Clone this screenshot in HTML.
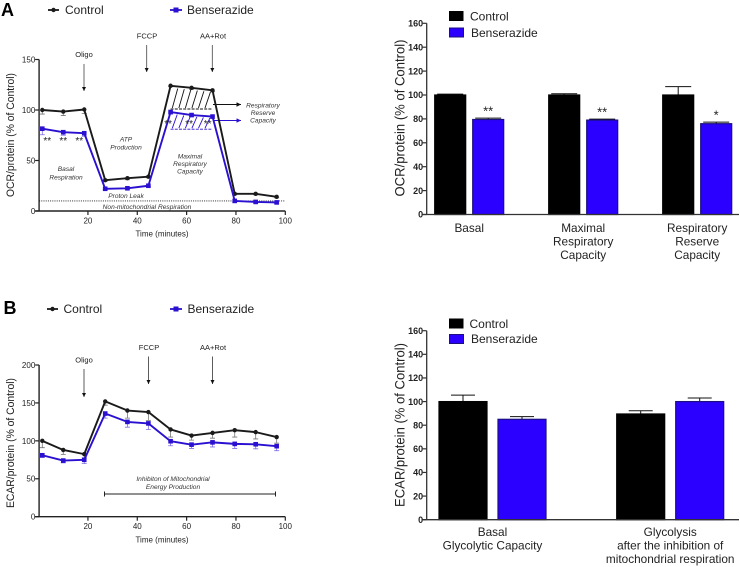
<!DOCTYPE html>
<html>
<head>
<meta charset="utf-8">
<style>
html,body{margin:0;padding:0;background:#fff;width:740px;height:567px;overflow:hidden}
svg{display:block;font-family:"Liberation Sans",Arial,sans-serif;filter:blur(0.3px)}
text{fill:#222}
.ann{font-size:6.6px;font-style:italic;text-anchor:middle;fill:#333}
.drug{font-size:7.5px;text-anchor:middle;fill:#222}
.leg{font-size:12px;fill:#222}
.panel{font-weight:bold;fill:#000}
</style>
</head>
<body>
<svg id="chart" width="740" height="567" viewBox="0 0 740 567" xmlns="http://www.w3.org/2000/svg">
<defs>
<marker id="ah-k" markerWidth="6" markerHeight="6" refX="5" refY="2.5" orient="auto"><path d="M0,0 L5,2.5 L0,5 Z" fill="#111"/></marker>
<marker id="ah-b" markerWidth="6" markerHeight="6" refX="5" refY="2.5" orient="auto"><path d="M0,0 L5,2.5 L0,5 Z" fill="#2a10d0"/></marker>
</defs>

<text class="panel" x="1" y="16" font-size="18">A</text>
<text class="panel" x="3.5" y="314" font-size="18">B</text>

<g>
<line x1="48" y1="10" x2="59" y2="10" stroke="#1a1a1a" stroke-width="1.8"/>
<circle cx="53.5" cy="10" r="2.2" fill="#1a1a1a"/>
<text class="leg" x="65" y="14">Control</text>
<line x1="170" y1="10" x2="182" y2="10" stroke="#2a10d0" stroke-width="1.8"/>
<rect x="173.5" y="7.5" width="5" height="5" fill="#2a10d0"/>
<text class="leg" x="187" y="14">Benserazide</text>
</g>

<g>
<line x1="47" y1="309" x2="58" y2="309" stroke="#1a1a1a" stroke-width="1.8"/>
<circle cx="52.5" cy="309" r="2.2" fill="#1a1a1a"/>
<text class="leg" x="63.5" y="313">Control</text>
<line x1="170" y1="309" x2="182" y2="309" stroke="#2a10d0" stroke-width="1.8"/>
<rect x="173.5" y="306.5" width="5" height="5" fill="#2a10d0"/>
<text class="leg" x="187.5" y="313">Benserazide</text>
</g>

<g>
<rect x="449" y="11" width="14.5" height="10" fill="#000"/>
<text class="leg" x="470" y="20.5">Control</text>
<rect x="449.5" y="28" width="14" height="9" fill="#2c00ff" stroke="#1a1080" stroke-width="1"/>
<text class="leg" x="471" y="37">Benserazide</text>
</g>

<g>
<rect x="449" y="318.5" width="14.5" height="10" fill="#000"/>
<text class="leg" x="469.5" y="328">Control</text>
<rect x="449.5" y="334.5" width="14" height="9" fill="#2c00ff" stroke="#1a1080" stroke-width="1"/>
<text class="leg" x="471" y="343">Benserazide</text>
</g>

<g>
<text class="drug" x="84" y="57">Oligo</text>
<line x1="84" y1="64" x2="84" y2="91" stroke="#444" stroke-width="0.8" marker-end="url(#ah-k)"/>
<text class="drug" x="147" y="38.5">FCCP</text>
<line x1="146.7" y1="45" x2="146.7" y2="72" stroke="#444" stroke-width="0.8" marker-end="url(#ah-k)"/>
<text class="drug" x="213" y="38.5">AA+Rot</text>
<line x1="212.3" y1="45" x2="212.3" y2="72" stroke="#444" stroke-width="0.8" marker-end="url(#ah-k)"/>
<text class="ann"><tspan x="66" y="171">Basal</tspan><tspan x="66" y="179.5">Respiration</tspan></text>
<text class="ann"><tspan x="126" y="141.5">ATP</tspan><tspan x="126" y="149.5">Production</tspan></text>
<text class="ann"><tspan x="190" y="158.5">Maximal</tspan><tspan x="190" y="166">Respiratory</tspan><tspan x="190" y="173.5">Capacity</tspan></text>
<text class="ann" x="126" y="198">Proton Leak</text>
<text class="ann" x="147" y="209">Non-mitochondrial Respiration</text>
<text class="ann"><tspan x="263" y="107.5">Respiratory</tspan><tspan x="263" y="115">Reserve</tspan><tspan x="263" y="122.5">Capacity</tspan></text>
<line x1="213" y1="104.5" x2="241" y2="104.5" stroke="#111" stroke-width="0.9" marker-end="url(#ah-k)"/>
<line x1="213" y1="120.5" x2="241" y2="120.5" stroke="#2a10d0" stroke-width="0.9" marker-end="url(#ah-b)"/>
</g>

<g>
<text class="drug" x="84" y="362.5">Oligo</text>
<line x1="84" y1="369" x2="84" y2="397" stroke="#333" stroke-width="0.8" marker-end="url(#ah-k)"/>
<text class="drug" x="149" y="350">FCCP</text>
<line x1="148.5" y1="356.5" x2="148.5" y2="384" stroke="#333" stroke-width="0.8" marker-end="url(#ah-k)"/>
<text class="drug" x="213" y="350">AA+Rot</text>
<line x1="212.5" y1="356.5" x2="212.5" y2="384" stroke="#333" stroke-width="0.8" marker-end="url(#ah-k)"/>
<text class="ann"><tspan x="173" y="481">Inhibiton of Mitochondrial</tspan><tspan x="173" y="489">Energy Production</tspan></text>
<path d="M104.5,491.5V496.5M104.5,494H275.5M275.5,491.5V496.5" fill="none" stroke="#222" stroke-width="1"/>
</g>

<g id="plots"></g>
</svg>

<script>
// Time axis and OCR time course
const timeMinutes = [1.5, 10, 18.5, 27, 36, 44.5, 53.5, 62, 70.5, 79.5, 88, 96.5];
const ocrControl = [100, 98.5, 100.5, 30.5, 32.5, 34, 124, 122, 119.5, 17, 17, 14];
const ocrBenserazide = [81.5, 78, 77, 22, 22.5, 25, 98, 95, 93.5, 10, 9, 8.5];
const ocrControlErr = [4, 4, 4, 1, 1.5, 1, 1, 1.5, 1.5, 1, 1, 1];
const ocrBenserazideErr = [6, 3, 3, 1, 1, 1, 2, 1.5, 1.5, 1, 1, 1];
// ECAR time course
const ecarControl = [100, 88, 82.5, 152, 140, 138, 115, 107, 110.5, 114, 111.5, 105];
const ecarBenserazide = [81, 74, 75, 136, 125, 123, 99.5, 95, 98, 96, 95.5, 93];
const ecarControlErr = [9, 6, 5, 5, 10, 11, 10, 6, 7, 9, 9, 8];
const ecarBenserazideErr = [3, 3, 5, 6, 7, 8, 6, 5, 6, 6, 6, 6];
// Axis ticks
const lineXTicks = [20, 40, 60, 80, 100];
const ocrLineYTicks = [0, 50, 100, 150];
const ecarLineYTicks = [0, 50, 100, 150, 200];
const barYTicks = [0, 20, 40, 60, 80, 100, 120, 140, 160];
// OCR summary bars
const ocrBarCategories = [["Basal"], ["Maximal", "Respiratory", "Capacity"], ["Respiratory", "Reserve", "Capacity"]];
const ocrBarControl = [100, 100, 100];
const ocrBarBenserazide = [79.5, 79, 76];
const ocrBarControlErr = [0.7, 1, 7];
const ocrBarBenserazideErr = [1.2, 0.8, 1.3];
const ocrBarStars = ["**", "**", "*"];
// ECAR summary bars
const ecarBarCategories = [["Basal", "Glycolytic Capacity"], ["Glycolysis", "after the inhibition of", "mitochondrial respiration"]];
const ecarBarControl = [100, 89.5];
const ecarBarBenserazide = [85, 100];
const ecarBarControlErr = [5.5, 2.7];
const ecarBarBenserazideErr = [2.3, 3];
const ocrPointStars = ["**", "**", "**"];
const ocrPointStarTimes = [3.5, 10, 16.5];
const ocrMaxStarTimes = [52.5, 61, 68.5];

const NS = 'http://www.w3.org/2000/svg';
const BLUE = '#2a10d0', BLACK = '#1a1a1a';
const root = document.getElementById('plots');

function mk(tag, attrs, parent) {
  const el = document.createElementNS(NS, tag);
  for (const k in attrs) el.setAttribute(k, attrs[k]);
  (parent || root).appendChild(el);
  return el;
}
function linear(d0, d1, r0, r1) {
  return v => r0 + (v - d0) * (r1 - r0) / (d1 - d0);
}
function label(parent, name, x, y, str, size, anchor, weight, extra) {
  const el = mk('text', Object.assign({x: x, y: y, 'font-size': size, 'text-anchor': anchor, 'font-weight': weight || 'normal'}, extra || {}), parent);
  el.textContent = str;
  
  
  return el;
}
function yTitle(parent, name, str, x, cy, len, size) {
  const el = mk('text', {transform: 'translate(' + x + ',' + cy + ') rotate(-90)', 'font-size': size, 'text-anchor': 'middle', textLength: len, lengthAdjust: 'spacingAndGlyphs'}, parent);
  el.textContent = str;
  
  
}

function drawLineSeries(g, name, x, y, xs, ys, errs, color, isSquare) {
  xs.forEach((t, i) => {
    const e = mk('path', {d: 'M' + x(t) + ',' + y(ys[i]) + 'V' + y(ys[i] - errs[i]) + 'M' + (x(t) - 2.5) + ',' + y(ys[i] - errs[i]) + 'H' + (x(t) + 2.5), stroke: color, 'stroke-width': 0.8, 'stroke-opacity': 0.6, fill: 'none'}, g);
    
    
  });
  const line = mk('polyline', {points: xs.map((t, i) => x(t) + ',' + y(ys[i])).join(' '), fill: 'none', stroke: color, 'stroke-width': 1.9, 'stroke-linejoin': 'round'}, g);
  
  
  xs.forEach((t, i) => {
    const m = isSquare
      ? mk('rect', {x: x(t) - 2.3, y: y(ys[i]) - 2.3, width: 4.6, height: 4.6, fill: color}, g)
      : mk('circle', {cx: x(t), cy: y(ys[i]), r: 2.2, fill: color}, g);
    
    
  });
}

function drawLineAxes(g, prefix, x, y, xTicks, yTicks, yMax, tickY) {
  const ya = mk('line', {x1: x(0.2), x2: x(0.2), y1: y(yMax), y2: y(0), stroke: '#222', 'stroke-width': 1.4}, g);
  
  
  const xa = mk('line', {x1: x(0.2) - 4, x2: x(100), y1: y(0), y2: y(0), stroke: '#222', 'stroke-width': 1.4}, g);
  
  
  yTicks.forEach(v => {
    const t = mk('line', {x1: x(0.2) - 4, x2: x(0.2), y1: y(v), y2: y(v), stroke: '#222', 'stroke-width': 1.2}, g);
    
    
    label(g, prefix + '-y-tick-label', x(0.2) - 3.8, y(v) + 2.9, v, 8, 'end');
  });
  xTicks.forEach(v => {
    const t = mk('line', {x1: x(v), x2: x(v), y1: y(0), y2: y(0) + 4, stroke: '#222', 'stroke-width': 1.2}, g);
    
    
    label(g, prefix + '-x-tick-label', x(v), tickY, v, 8, 'middle');
  });
}

function interp(xs, ys, t) {
  for (let i = 0; i < xs.length - 1; i++) {
    if (t >= xs[i] && t <= xs[i + 1]) return ys[i] + (ys[i + 1] - ys[i]) * (t - xs[i]) / (xs[i + 1] - xs[i]);
  }
  return ys[ys.length - 1];
}

// Panel A line chart
(function () {
  const g = mk('g', {});
  
  
  const x = linear(0, 100, 38.6, 285.3);
  const y = linear(0, 150, 211, 59.5);
  drawLineAxes(g, 'ocr-line', x, y, lineXTicks, ocrLineYTicks, 150, 223.5);
  yTitle(g, 'ocr-line-y-title', 'OCR/protein (% of Control)', 14, 135, 124, 11);
  label(g, 'ocr-line-x-title', 162, 236.5, 'Time (minutes)', 8, 'middle');

  const dotted = mk('line', {x1: x(0.2), x2: x(100), y1: y(10), y2: y(10), stroke: '#111', 'stroke-width': 0.9, 'stroke-dasharray': '1 1.2'}, g);
  
  

  const dash1 = mk('line', {x1: x(53.5), x2: x(70.5), y1: y(101), y2: y(101), stroke: '#111', 'stroke-width': 0.9, 'stroke-dasharray': '3 1.2'}, g);
  
  
  const dash2 = mk('line', {x1: x(53.5), x2: x(70.5), y1: y(81), y2: y(81), stroke: BLUE, 'stroke-width': 0.9, 'stroke-dasharray': '3 1.2'}, g);
  
  

  for (let t = 54.2; t < 70; t += 2.65) {
    const h = mk('line', {x1: x(t), y1: y(102), x2: x(t + 2.2), y2: y(interp(timeMinutes, ocrControl, t + 2.2) - 2), stroke: '#111', 'stroke-width': 0.9}, g);
    
    
    const b = mk('line', {x1: x(t), y1: y(82), x2: x(t + 2), y2: y(interp(timeMinutes, ocrBenserazide, t + 2) - 1.5), stroke: BLUE, 'stroke-width': 0.9}, g);
    
    
  }

  drawLineSeries(g, 'ocr-control', x, y, timeMinutes, ocrControl, ocrControlErr, BLACK, false);
  drawLineSeries(g, 'ocr-benserazide', x, y, timeMinutes, ocrBenserazide, ocrBenserazideErr, BLUE, true);

  ocrPointStarTimes.forEach((t, i) => {
    label(g, 'ocr-basal-significance', x(t), y(68) + 1.5, ocrPointStars[i], 10, 'middle');
  });
  ocrMaxStarTimes.forEach((t, i) => {
    label(g, 'ocr-maximal-significance', x(t), y(87) + 4, ocrPointStars[i], 10, 'middle');
  });
})();

// Panel B line chart
(function () {
  const g = mk('g', {});
  
  
  const x = linear(0, 100, 38.6, 285.3);
  const y = linear(0, 200, 516.7, 365);
  drawLineAxes(g, 'ecar-line', x, y, lineXTicks, ecarLineYTicks, 200, 529);
  yTitle(g, 'ecar-line-y-title', 'ECAR/protein (% of Control)', 14, 443, 130, 11);
  label(g, 'ecar-line-x-title', 162, 542.5, 'Time (minutes)', 8, 'middle');
  drawLineSeries(g, 'ecar-control', x, y, timeMinutes, ecarControl, ecarControlErr, BLACK, false);
  drawLineSeries(g, 'ecar-benserazide', x, y, timeMinutes, ecarBenserazide, ecarBenserazideErr, BLUE, true);
})();

function drawBars(opts) {
  const g = mk('g', {});
  
  
  const y = linear(0, 160, opts.y0, opts.y160);
  const px = (i, s) => opts.start + i * opts.groupStep + s * opts.barStep;

  opts.categories.forEach((lines, i) => {
    [opts.control, opts.bense].forEach((vals, s) => {
      const err = s === 0 ? opts.controlErr[i] : opts.benseErr[i];
      const left = px(i, s);
      const mid = left + opts.barW / 2;
      const eb = mk('path', {d: 'M' + mid + ',' + y(vals[i]) + 'V' + y(vals[i] + err) + 'M' + (mid - opts.cap) + ',' + y(vals[i] + err) + 'H' + (mid + opts.cap), stroke: '#111', 'stroke-width': 1, fill: 'none'}, g);
      
      
      const r = mk('rect', {x: left, y: y(vals[i]), width: opts.barW, height: opts.y0 - y(vals[i]), fill: s === 0 ? '#000' : '#2c00ff', stroke: s === 0 ? '#000' : '#1a1080', 'stroke-width': 1.2}, g);
      
      
    });
    const center = (px(i, 0) + px(i, 1) + opts.barW) / 2;
    lines.forEach((ln, k) => {
      label(g, opts.prefix + '-category-label', center, opts.catY + k * opts.catStep, ln, 11.8, 'middle');
    });
    if (opts.stars) {
      const mid = px(i, 1) + opts.barW / 2;
      label(g, opts.prefix + '-significance', mid, y(opts.bense[i] + opts.benseErr[i]) - 2.5, opts.stars[i], 13, 'middle');
    }
  });

  const ya = mk('line', {x1: opts.axisX, x2: opts.axisX, y1: opts.y160, y2: opts.y0, stroke: '#333', 'stroke-width': 1.3}, g);
  
  
  const xa = mk('line', {x1: opts.axisX - 4, x2: 739, y1: opts.y0, y2: opts.y0, stroke: '#333', 'stroke-width': 1.3}, g);
  
  
  barYTicks.forEach(v => {
    const t = mk('line', {x1: opts.axisX - 4, x2: opts.axisX, y1: y(v), y2: y(v), stroke: '#333', 'stroke-width': 1.2}, g);
    
    
    label(g, opts.prefix + '-y-tick-label', opts.axisX - 3.5, y(v) + 3.2, v, 9, 'end', 'bold');
  });
  yTitle(g, opts.prefix + '-y-title', opts.title, 404.5, opts.titleCy, opts.titleLen, 14);
}

drawBars({prefix: 'ocr', title: 'OCR/protein (% of Control)', titleCy: 118, titleLen: 157,
  y0: 214.5, y160: 23.3, axisX: 426.7, start: 434.7, groupStep: 114, barStep: 38, barW: 31, cap: 13,
  categories: ocrBarCategories, control: ocrBarControl, bense: ocrBarBenserazide,
  controlErr: ocrBarControlErr, benseErr: ocrBarBenserazideErr, stars: ocrBarStars, catY: 232, catStep: 13.5});

drawBars({prefix: 'ecar', title: 'ECAR/protein (% of Control)', titleCy: 425, titleLen: 164,
  y0: 519.7, y160: 330.7, axisX: 426.7, start: 439, groupStep: 177.7, barStep: 59, barW: 48, cap: 12,
  categories: ecarBarCategories, control: ecarBarControl, bense: ecarBarBenserazide,
  controlErr: ecarBarControlErr, benseErr: ecarBarBenserazideErr, stars: null, catY: 536, catStep: 13.5});
</script>
</body>
</html>
